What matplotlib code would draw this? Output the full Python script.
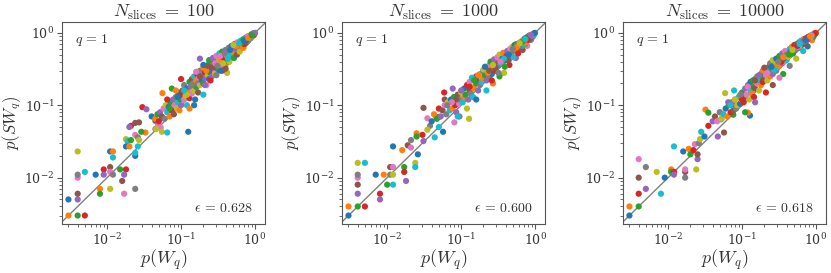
import numpy as np
import matplotlib
matplotlib.use('Agg')
import matplotlib.pyplot as plt

plt.rcParams['mathtext.fontset'] = 'cm'
plt.rcParams['font.family'] = 'serif'
plt.rcParams['font.serif'] = ['DejaVu Serif']

# panel settings
nslices = [100, 1000, 10000]
eps = [0.628, 0.600, 0.618]

# N_slices = 100 : (p(W_q), p(SW_q))
w_100 = [0.003, 0.003, 0.004, 0.005, 0.004, 0.004, 0.004, 0.004, 0.004, 0.005,
         0.007, 0.008, 0.008, 0.009, 0.009, 0.011, 0.011, 0.012, 0.011, 0.012,
         0.011, 0.012, 0.015, 0.018, 0.017, 0.016, 0.017, 0.024, 0.018, 0.019,
         0.018, 0.020, 0.021, 0.021, 0.020, 0.024, 0.024, 0.026, 0.027, 0.026,
         0.024, 0.033, 0.029, 0.030, 0.034, 0.045, 0.053, 0.045, 0.055, 0.065,
         0.125, 0.056, 0.075, 0.10, 0.18, 0.027, 0.049, 0.055, 0.046, 0.024,
         0.040, 0.045, 0.048, 0.050, 0.052, 0.055, 0.058, 0.060, 0.062, 0.065,
         0.068, 0.070, 0.072, 0.075, 0.078, 0.080, 0.082, 0.085, 0.088, 0.090,
         0.092, 0.095, 0.098, 0.10, 0.10, 0.105, 0.11, 0.11, 0.115, 0.12,
         0.12, 0.125, 0.13, 0.13, 0.135, 0.14, 0.14, 0.145, 0.15, 0.15,
         0.155, 0.16, 0.16, 0.165, 0.17, 0.17, 0.175, 0.18, 0.18, 0.19,
         0.19, 0.20, 0.20, 0.21, 0.21, 0.22, 0.22, 0.23, 0.23, 0.24,
         0.24, 0.25, 0.25, 0.26, 0.26, 0.27, 0.28, 0.28, 0.29, 0.30,
         0.30, 0.31, 0.32, 0.33, 0.34, 0.35, 0.36, 0.37, 0.38, 0.38,
         0.40, 0.40, 0.42, 0.42, 0.44, 0.45, 0.46, 0.48, 0.50, 0.50,
         0.52, 0.54, 0.55, 0.57, 0.58, 0.60, 0.62, 0.63, 0.65, 0.67,
         0.68, 0.70, 0.72, 0.74, 0.75, 0.77, 0.79, 0.80, 0.82, 0.84,
         0.86, 0.88, 0.90, 0.92, 0.94, 0.96, 0.98, 1.0, 0.42, 0.20,
         0.15, 0.13, 0.31, 0.36, 0.27, 0.48, 0.58, 0.66, 0.70, 0.82,
         0.24, 0.33, 0.44, 0.52, 0.62, 0.75, 0.88, 0.93, 0.97, 0.35,
         0.20, 0.22, 0.24, 0.25, 0.27, 0.28, 0.30, 0.30, 0.32, 0.33,
         0.34, 0.35, 0.36, 0.38, 0.40, 0.40, 0.42, 0.44, 0.45, 0.47,
         0.48, 0.50, 0.52, 0.53, 0.55, 0.57, 0.58, 0.60, 0.62, 0.64,
         0.65, 0.68, 0.70, 0.72, 0.75, 0.77, 0.80, 0.82, 0.85, 0.87,
         0.90, 0.93, 0.95, 0.97, 0.99, 0.26, 0.29, 0.31, 0.37, 0.43,
         0.46, 0.56, 0.66, 0.76, 0.86, 0.18, 0.16, 0.14, 0.12, 0.11,
         0.09, 0.085, 0.07, 0.065, 0.21, 0.23, 0.34, 0.39, 0.51, 0.61,
         0.71, 0.81, 0.91]
sw_100 = [0.005, 0.003, 0.003, 0.003, 0.005, 0.006, 0.010, 0.011, 0.023, 0.012,
          0.011, 0.007, 0.006, 0.013, 0.011, 0.014, 0.012, 0.011, 0.007, 0.019,
          0.023, 0.023, 0.013, 0.013, 0.011, 0.009, 0.006, 0.007, 0.034, 0.032,
          0.027, 0.027, 0.033, 0.052, 0.050, 0.057, 0.039, 0.036, 0.033, 0.027,
          0.020, 0.042, 0.043, 0.094, 0.088, 0.061, 0.049, 0.047, 0.043, 0.042,
          0.043, 0.147, 0.17, 0.23, 0.44, 0.058, 0.053, 0.066, 0.047, 0.022,
          0.070, 0.065, 0.075, 0.060, 0.080, 0.070, 0.090, 0.065, 0.100, 0.080,
          0.095, 0.070, 0.110, 0.085, 0.120, 0.075, 0.100, 0.130, 0.090, 0.110,
          0.150, 0.085, 0.120, 0.140, 0.100, 0.160, 0.120, 0.190, 0.135, 0.100,
          0.170, 0.150, 0.210, 0.125, 0.180, 0.230, 0.145, 0.200, 0.160, 0.250,
          0.120, 0.220, 0.180, 0.270, 0.200, 0.150, 0.240, 0.300, 0.190, 0.260,
          0.220, 0.330, 0.200, 0.280, 0.240, 0.350, 0.190, 0.300, 0.260, 0.380,
          0.230, 0.320, 0.280, 0.420, 0.250, 0.350, 0.300, 0.400, 0.270, 0.370,
          0.330, 0.440, 0.310, 0.400, 0.360, 0.460, 0.330, 0.420, 0.500, 0.380,
          0.450, 0.360, 0.520, 0.410, 0.480, 0.560, 0.440, 0.530, 0.600, 0.470,
          0.560, 0.640, 0.520, 0.610, 0.680, 0.580, 0.660, 0.720, 0.620, 0.700,
          0.760, 0.670, 0.740, 0.800, 0.720, 0.780, 0.840, 0.770, 0.820, 0.870,
          0.840, 0.900, 0.880, 0.930, 0.920, 0.960, 0.980, 1.0, 0.28, 0.14,
          0.10, 0.09, 0.40, 0.30, 0.36, 0.62, 0.55, 0.75, 0.62, 0.90,
          0.30, 0.45, 0.40, 0.50, 0.70, 0.82, 0.85, 0.97, 0.95, 0.40,
          0.36, 0.30, 0.42, 0.22, 0.45, 0.34, 0.48, 0.26, 0.40, 0.52,
          0.30, 0.42, 0.55, 0.45, 0.58, 0.32, 0.48, 0.62, 0.40, 0.52,
          0.66, 0.55, 0.45, 0.70, 0.60, 0.50, 0.74, 0.64, 0.55, 0.78,
          0.70, 0.62, 0.82, 0.70, 0.86, 0.75, 0.90, 0.79, 0.92, 0.85,
          0.95, 0.90, 0.98, 0.94, 0.99, 0.33, 0.38, 0.35, 0.38, 0.44,
          0.58, 0.66, 0.74, 0.80, 0.88, 0.25, 0.29, 0.19, 0.14, 0.16,
          0.13, 0.16, 0.09, 0.12, 0.19, 0.35, 0.48, 0.52, 0.68, 0.72,
          0.77, 0.85, 0.92]

# N_slices = 1000
w_1000 = [0.003, 0.003, 0.004, 0.005, 0.004, 0.004, 0.004, 0.004, 0.004, 0.005,
          0.007, 0.009, 0.010, 0.008, 0.008, 0.011, 0.012, 0.011, 0.012, 0.012,
          0.012, 0.016, 0.017, 0.017, 0.018, 0.019, 0.021, 0.021, 0.024, 0.024,
          0.026, 0.025, 0.025, 0.030, 0.031, 0.031, 0.035, 0.038, 0.035, 0.044,
          0.057, 0.046, 0.050, 0.059, 0.077, 0.060, 0.081, 0.095, 0.128, 0.050,
          0.040, 0.043, 0.047, 0.050, 0.053, 0.056, 0.060, 0.063, 0.066, 0.070,
          0.073, 0.076, 0.080, 0.083, 0.086, 0.090, 0.094, 0.098, 0.10, 0.105,
          0.11, 0.11, 0.115, 0.12, 0.125, 0.13, 0.13, 0.135, 0.14, 0.145,
          0.15, 0.15, 0.16, 0.16, 0.17, 0.17, 0.18, 0.18, 0.19, 0.19,
          0.20, 0.20, 0.21, 0.22, 0.22, 0.23, 0.24, 0.24, 0.25, 0.26,
          0.26, 0.27, 0.28, 0.29, 0.30, 0.30, 0.31, 0.32, 0.33, 0.34,
          0.35, 0.36, 0.37, 0.38, 0.40, 0.40, 0.42, 0.43, 0.45, 0.46,
          0.48, 0.50, 0.51, 0.53, 0.55, 0.57, 0.58, 0.60, 0.62, 0.64,
          0.66, 0.68, 0.70, 0.72, 0.74, 0.76, 0.78, 0.80, 0.82, 0.85,
          0.87, 0.89, 0.91, 0.93, 0.95, 0.97, 0.99, 1.0, 0.38, 0.22,
          0.16, 0.27, 0.33, 0.45, 0.55, 0.68, 0.78, 0.88, 0.12, 0.09,
          0.48, 0.63, 0.73, 0.84, 0.93, 0.29, 0.41, 0.52, 0.20, 0.14,
          0.21, 0.23, 0.25, 0.26, 0.28, 0.29, 0.31, 0.32, 0.33, 0.35,
          0.36, 0.37, 0.39, 0.41, 0.42, 0.44, 0.46, 0.47, 0.49, 0.51,
          0.53, 0.55, 0.56, 0.59, 0.61, 0.63, 0.65, 0.67, 0.69, 0.71,
          0.73, 0.76, 0.79, 0.81, 0.84, 0.86, 0.89, 0.92, 0.94, 0.96,
          0.98, 0.17, 0.15, 0.13, 0.10, 0.085, 0.075, 0.065, 0.27, 0.38,
          0.44, 0.57, 0.68, 0.78, 0.88, 0.24, 0.34, 0.50, 0.62, 0.74]
sw_1000 = [0.003, 0.004, 0.004, 0.004, 0.006, 0.008, 0.010, 0.011, 0.016, 0.016,
           0.011, 0.011, 0.008, 0.006, 0.005, 0.014, 0.014, 0.011, 0.011, 0.008,
           0.027, 0.024, 0.014, 0.012, 0.009, 0.028, 0.026, 0.033, 0.016, 0.014,
           0.021, 0.041, 0.037, 0.039, 0.032, 0.092, 0.066, 0.052, 0.046, 0.036,
           0.043, 0.069, 0.069, 0.150, 0.170, 0.120, 0.058, 0.070, 0.065, 0.050,
           0.060, 0.075, 0.065, 0.090, 0.070, 0.085, 0.100, 0.075, 0.110, 0.085,
           0.120, 0.090, 0.130, 0.100, 0.080, 0.140, 0.105, 0.120, 0.150, 0.110,
           0.170, 0.130, 0.140, 0.190, 0.120, 0.160, 0.210, 0.145, 0.180, 0.130,
           0.230, 0.170, 0.200, 0.250, 0.160, 0.220, 0.270, 0.190, 0.240, 0.210,
           0.300, 0.230, 0.260, 0.330, 0.220, 0.280, 0.360, 0.250, 0.310, 0.390,
           0.270, 0.330, 0.420, 0.300, 0.370, 0.330, 0.450, 0.350, 0.400, 0.480,
           0.380, 0.440, 0.400, 0.520, 0.460, 0.420, 0.550, 0.480, 0.500, 0.580,
           0.530, 0.560, 0.620, 0.580, 0.620, 0.680, 0.620, 0.660, 0.720, 0.680,
           0.720, 0.760, 0.740, 0.780, 0.800, 0.800, 0.840, 0.830, 0.860, 0.880,
           0.900, 0.910, 0.930, 0.940, 0.960, 0.970, 0.990, 1.0, 0.28, 0.16,
           0.12, 0.20, 0.25, 0.36, 0.45, 0.58, 0.66, 0.80, 0.09, 0.07,
           0.60, 0.74, 0.70, 0.92, 0.88, 0.40, 0.52, 0.66, 0.31, 0.24,
           0.34, 0.28, 0.40, 0.22, 0.43, 0.33, 0.46, 0.28, 0.50, 0.38,
           0.44, 0.53, 0.34, 0.48, 0.56, 0.42, 0.60, 0.50, 0.64, 0.46,
           0.68, 0.58, 0.70, 0.52, 0.72, 0.62, 0.76, 0.66, 0.80, 0.70,
           0.84, 0.74, 0.88, 0.80, 0.90, 0.84, 0.94, 0.90, 0.97, 0.93,
           0.99, 0.26, 0.22, 0.18, 0.16, 0.12, 0.11, 0.10, 0.36, 0.44,
           0.50, 0.64, 0.76, 0.84, 0.93, 0.30, 0.40, 0.60, 0.72, 0.82]

# N_slices = 10000
w_10000 = [0.003, 0.003, 0.004, 0.004, 0.005, 0.004, 0.004, 0.005, 0.007, 0.008,
           0.009, 0.011, 0.011, 0.012, 0.012, 0.017, 0.017, 0.017, 0.024, 0.012,
           0.016, 0.019, 0.020, 0.022, 0.025, 0.025, 0.023, 0.026, 0.027, 0.028,
           0.031, 0.032, 0.035, 0.035, 0.047, 0.057, 0.050, 0.052, 0.059, 0.078,
           0.128, 0.120, 0.076, 0.080, 0.040, 0.043, 0.046, 0.050, 0.053, 0.056,
           0.060, 0.063, 0.066, 0.070, 0.073, 0.076, 0.080, 0.083, 0.086, 0.090,
           0.094, 0.098, 0.10, 0.105, 0.11, 0.11, 0.115, 0.12, 0.125, 0.13,
           0.13, 0.135, 0.14, 0.145, 0.15, 0.15, 0.16, 0.16, 0.17, 0.17,
           0.18, 0.18, 0.19, 0.19, 0.20, 0.20, 0.21, 0.22, 0.22, 0.23,
           0.24, 0.24, 0.25, 0.26, 0.26, 0.27, 0.28, 0.29, 0.30, 0.30,
           0.31, 0.32, 0.33, 0.34, 0.35, 0.36, 0.37, 0.38, 0.40, 0.40,
           0.42, 0.43, 0.45, 0.46, 0.48, 0.50, 0.51, 0.53, 0.55, 0.57,
           0.58, 0.60, 0.62, 0.64, 0.66, 0.68, 0.70, 0.72, 0.74, 0.76,
           0.78, 0.80, 0.82, 0.85, 0.87, 0.89, 0.91, 0.93, 0.95, 0.97,
           0.99, 1.0, 0.36, 0.21, 0.15, 0.26, 0.32, 0.44, 0.54, 0.67,
           0.77, 0.88, 0.11, 0.47, 0.62, 0.72, 0.83, 0.92, 0.28, 0.40,
           0.52, 0.19, 0.14, 0.10, 0.065,
           0.20, 0.22, 0.24, 0.26, 0.27, 0.29, 0.30, 0.32, 0.34, 0.35,
           0.37, 0.38, 0.40, 0.42, 0.44, 0.45, 0.47, 0.49, 0.51, 0.53,
           0.55, 0.57, 0.59, 0.61, 0.63, 0.66, 0.68, 0.70, 0.73, 0.75,
           0.78, 0.80, 0.83, 0.86, 0.88, 0.91, 0.94, 0.96, 0.98, 0.17,
           0.15, 0.12, 0.095, 0.08, 0.07, 0.25, 0.36, 0.43, 0.56, 0.67,
           0.77, 0.87, 0.31, 0.48, 0.60, 0.72, 0.83]
sw_10000 = [0.003, 0.004, 0.004, 0.006, 0.007, 0.010, 0.018, 0.014, 0.012, 0.006,
            0.010, 0.013, 0.012, 0.012, 0.011, 0.012, 0.013, 0.010, 0.013, 0.027,
            0.023, 0.025, 0.021, 0.024, 0.018, 0.021, 0.029, 0.030, 0.034, 0.043,
            0.037, 0.087, 0.079, 0.052, 0.037, 0.042, 0.080, 0.064, 0.147, 0.160,
            0.072, 0.079, 0.074, 0.100, 0.060, 0.070, 0.060, 0.080, 0.065, 0.075,
            0.090, 0.070, 0.100, 0.080, 0.110, 0.085, 0.120, 0.090, 0.100, 0.130,
            0.105, 0.120, 0.150, 0.110, 0.170, 0.130, 0.140, 0.190, 0.120, 0.160,
            0.210, 0.145, 0.180, 0.130, 0.230, 0.170, 0.200, 0.250, 0.160, 0.220,
            0.270, 0.190, 0.240, 0.210, 0.300, 0.230, 0.260, 0.330, 0.220, 0.280,
            0.360, 0.250, 0.310, 0.390, 0.270, 0.330, 0.420, 0.300, 0.370, 0.330,
            0.450, 0.350, 0.400, 0.480, 0.380, 0.440, 0.400, 0.520, 0.460, 0.420,
            0.550, 0.480, 0.500, 0.580, 0.530, 0.560, 0.620, 0.580, 0.620, 0.680,
            0.620, 0.660, 0.720, 0.680, 0.720, 0.760, 0.740, 0.780, 0.800, 0.800,
            0.840, 0.830, 0.860, 0.880, 0.900, 0.910, 0.930, 0.940, 0.960, 0.970,
            0.990, 1.0, 0.27, 0.15, 0.11, 0.19, 0.24, 0.35, 0.44, 0.56,
            0.65, 0.79, 0.08, 0.59, 0.73, 0.70, 0.91, 0.87, 0.38, 0.50,
            0.64, 0.30, 0.22, 0.12, 0.11,
            0.33, 0.28, 0.38, 0.42, 0.31, 0.44, 0.36, 0.48, 0.40, 0.52,
            0.45, 0.56, 0.50, 0.47, 0.60, 0.54, 0.64, 0.52, 0.68, 0.60,
            0.70, 0.64, 0.74, 0.68, 0.78, 0.72, 0.82, 0.76, 0.84, 0.80,
            0.88, 0.84, 0.90, 0.88, 0.94, 0.92, 0.97, 0.95, 0.99, 0.26,
            0.22, 0.18, 0.14, 0.12, 0.10, 0.34, 0.46, 0.50, 0.66, 0.76,
            0.82, 0.92, 0.40, 0.58, 0.70, 0.80, 0.89]

panels = [(w_100, sw_100), (w_1000, sw_1000), (w_10000, sw_10000)]
lefts = [0.0746, 0.4116, 0.7497]
tab = plt.get_cmap('tab10').colors
grey = '#555555'
txt = '#333333'

fig = plt.figure(figsize=(8.31, 2.73), dpi=100)
for k in range(3):
    ax = fig.add_axes([lefts[k], 0.1795, 0.2443, 0.74])
    x = np.array(panels[k][0])
    y = np.array(panels[k][1])
    cols = [tab[i % 10] for i in range(len(x))]
    ax.plot([1e-4, 10], [1e-4, 10], c='grey', lw=1, zorder=1)
    ax.scatter(x, y, s=20, c=cols, zorder=2, linewidths=0)
    ax.set_xscale('log')
    ax.set_yscale('log')
    ax.set_xlim(10**-2.61, 10**0.135)
    ax.set_ylim(10**-2.64, 10**0.15)
    for sp in ax.spines.values():
        sp.set_color(grey)
    ax.tick_params(which='both', colors=grey, labelcolor=txt, labelsize=9,
                   pad=2)
    ax.tick_params(which='major', length=3.5)
    ax.tick_params(which='minor', length=2)
    ax.set_xlabel(r'$p(W_q)$', fontsize=13, color=txt, labelpad=0)
    ax.set_ylabel(r'$p(SW_q)$', fontsize=12, color=txt)
    ax.yaxis.set_label_coords(-0.19, 0.5)
    ax.set_title(r'$N_{\rm slices}\;=\;%d$' % nslices[k], fontsize=13,
                 color=txt, pad=2)
    ax.text(0.065, 0.91, r'$q\,=\,1$', transform=ax.transAxes, fontsize=10,
            color=txt, va='center')
    ax.text(0.94, 0.08, r'$\epsilon\,=\,%.3f$' % eps[k], transform=ax.transAxes,
            fontsize=10, color=txt, ha='right', va='center')

fig.savefig('out.png', dpi=100)
